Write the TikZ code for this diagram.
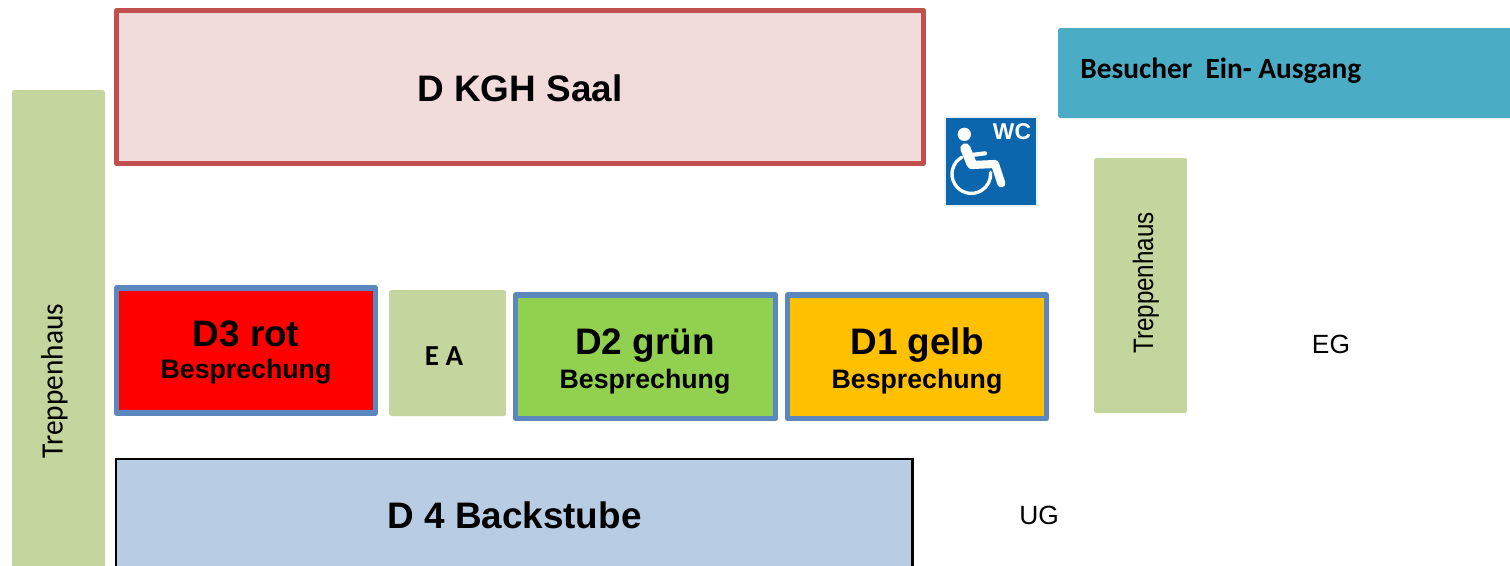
\documentclass[tikz,border=0pt]{standalone}
\usepackage{fontspec}
\setmainfont{Liberation Sans}
\newfontfamily\carlito{Carlito}
\definecolor{saalrot}{HTML}{C0504D}
\definecolor{saalfill}{HTML}{F2DCDB}
\definecolor{raumblau}{HTML}{5B87BF}
\definecolor{hausgruen}{HTML}{C4D69D}
\definecolor{dzwei}{HTML}{92D050}
\definecolor{deins}{HTML}{FFC000}
\definecolor{backfill}{HTML}{B8CCE4}
\definecolor{eingang}{HTML}{4BACC6}
\definecolor{wcblau}{HTML}{0B66AE}
\tikzset{
	raum/.style={draw=raumblau,line width=3pt,line join=round},
	flaeche/.style={rounded corners=1pt},
	titel/.style={anchor=base,font=\bfseries\fontsize{21}{24}\selectfont},
	unter/.style={anchor=base,font=\bfseries\fontsize{15.2}{18}\selectfont},
	treppe/.style={anchor=base,font=\fontsize{16}{18}\selectfont,rotate=90},
	etage/.style={font=\fontsize{15}{18}\selectfont}
}
\begin{document}
\begin{tikzpicture}[x=.02cm,y=-.02cm,line cap=round]
	\useasboundingbox (0,0) rectangle (1510,565);
	\clip (0,0) rectangle (1510,565);
	% saal
	\draw[draw=saalrot,fill=saalfill,line width=2.9pt,line join=round] (116.5,10.5) rectangle (923.5,163.5);
	\node[titel] (saal) at (520,101) {D KGH Saal};
	% eingang und treppen
	\fill[eingang,flaeche] (1058,28) rectangle (1530,118);
	\node[anchor=west,inner sep=0pt,font=\carlito\bfseries\fontsize{16.7}{18}\selectfont] (ausgang) at (1080,71) {Besucher\ \ Ein- Ausgang};
	\fill[hausgruen,flaeche] (12,90) rectangle (105,585);
	\node[treppe,xscale=.945,font=\carlito\fontsize{17.7}{18}\selectfont] (treppelinks) at (62.5,381) {Treppenhaus};
	\fill[hausgruen,flaeche] (1094,158) rectangle (1187,413);
	\node[treppe,xscale=.86] (trepperechts) at (1153,283) {Treppenhaus};
	\fill[hausgruen,flaeche] (389,290) rectangle (506,416);
	\node[font=\carlito\bfseries\fontsize{16.5}{18}\selectfont] (ea) at (444,356) {E A};
	% besprechung
	\foreach \xa/\xb/\ya/\yb/\farbe in {116.5/375.5/288/413/red,515.5/775.5/295/418.5/dzwei,787.5/1046.5/295/418.5/deins}
	\draw[raum,fill=\farbe] (\xa,\ya) rectangle (\xb,\yb);
	\foreach \xm/\ym/\nraum/\traum in {246/346/drei/D3 rot,645/354.5/zwei/D2 grün,917/354.5/eins/D1 gelb}
	\node[titel] (\nraum) at (\xm,\ym) {\traum};
	\foreach \xm/\ym/\nraum in {246/378/dreib,645/388.5/zweib,917/388.5/einsb}
	\node[unter] (\nraum) at (\xm,\ym) {Besprechung};
	% backstube
	\draw[fill=backfill,line width=1.2pt] (116.3,459) rectangle (912.5,585);
	\node[titel] (backstube) at (514.5,528) {D 4 Backstube};
	\node[etage] (eg) at (1331,344) {EG};
	\node[etage] (ug) at (1039,515) {UG};
	% wc schild
	\draw[draw=wcblau!8,fill=wcblau,line width=.6pt] (945,117) rectangle (1037,206);
	\node[text=white,font=\bfseries\fontsize{13}{15}\selectfont] (wc) at (1012,132) {WC};
	\begin{scope}[shift={(930,100)},x=.00667cm,y=-.00667cm,white]
		\fill (103,103) circle[radius=20];
		\draw[line width=1.9pt] (95,172) arc[start angle=240,end angle=-5,radius=58];
		\draw[line width=5.8pt,line join=round] (106,145)--(125,192);
		\draw[line width=4.6pt,line join=round] (125,195)--(195,192)--(214,250);
		\draw[line width=2.4pt] (125,165)--(165,160);
	\end{scope}
\end{tikzpicture}
\end{document}
